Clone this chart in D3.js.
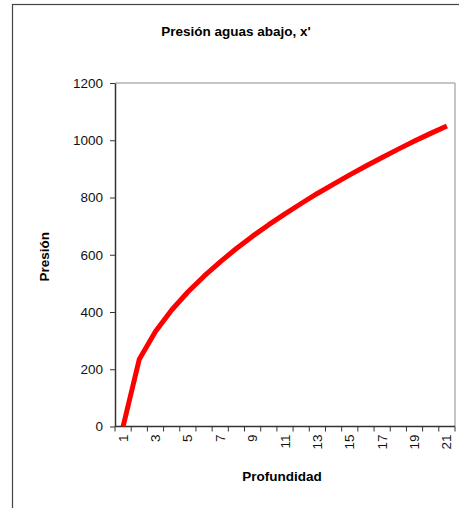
<!DOCTYPE html>
<html>
<head>
<meta charset="utf-8">
<script src="https://cdn.jsdelivr.net/npm/d3@7.9.0/dist/d3.min.js"></script>
<style>
  html, body { margin: 0; padding: 0; background: #fff; }
  svg { display: block; font-family: "Liberation Sans", Arial, sans-serif; }
</style>
</head>
<body>
<svg id="chart" width="459" height="508"></svg>
<script>
// data
const profundidad = d3.range(1, 22);   // categories 1..21
const presion = [0, 235, 332, 407, 470, 525, 575, 622, 665, 705, 743,
                 779, 814, 847, 879, 910, 940, 969, 997, 1024, 1050];
const yTicks = [0, 200, 400, 600, 800, 1000, 1200];
const xLabels = [1, 3, 5, 7, 9, 11, 13, 15, 17, 19, 21];

const svg = d3.select("#chart");

// outer chart frame (runs off the picture at right and bottom)
svg.append("rect")
  .attr("x", 12.5).attr("y", 4.5)
  .attr("width", 470).attr("height", 530)
  .attr("fill", "none")
  .attr("stroke", "#444")
  .attr("stroke-width", 1.2);

// plot area
const plot = { left: 115, top: 83, right: 455, bottom: 426.5 };

const x = d3.scaleBand()
  .domain(profundidad)
  .range([plot.left, plot.right])
  .padding(0);

const y = d3.scaleLinear()
  .domain([0, 1200])
  .range([plot.bottom, plot.top]);

// top and right border of the plot area
svg.append("path")
  .attr("d", `M${plot.left},${plot.top}H${plot.right}V${plot.bottom}`)
  .attr("fill", "none")
  .attr("stroke", "#8c8c8c")
  .attr("stroke-width", 1);

// y axis
const yAxis = svg.append("g")
  .attr("transform", `translate(${plot.left},0)`)
  .call(d3.axisLeft(y).tickValues(yTicks).tickFormat(d3.format("d"))
    .tickSize(5).tickPadding(7).tickSizeOuter(0));
yAxis.select(".domain").attr("stroke", "#333").attr("stroke-width", 1.5);
yAxis.selectAll(".tick line").attr("stroke", "#333");
yAxis.selectAll(".tick text")
  .attr("fill", "#111")
  .style("font-size", "13.5px")
  .style("font-family", "'Liberation Sans', Arial, sans-serif");

// x axis: ticks on category boundaries, labels on odd categories
const xg = svg.append("g").attr("transform", `translate(0,${plot.bottom})`);
xg.append("line")
  .attr("x1", plot.left).attr("x2", plot.right)
  .attr("stroke", "#333").attr("stroke-width", 1.5);
const bounds = profundidad.map(d => x(d)).concat([x(21) + x.bandwidth()]);
xg.selectAll("line.tk")
  .data(bounds)
  .enter().append("line")
  .attr("class", "tk")
  .attr("x1", d => d).attr("x2", d => d)
  .attr("y1", 0).attr("y2", 5)
  .attr("stroke", "#333");
xg.selectAll("text.lbl")
  .data(xLabels)
  .enter().append("text")
  .attr("class", "lbl")
  .attr("transform", d => `translate(${x(d) + x.bandwidth() / 2 + 4.5},8) rotate(-90)`)
  .attr("text-anchor", "end")
  .attr("fill", "#111")
  .style("font-size", "13.5px")
  .text(d => d);

// line
const line = d3.line()
  .x((d, i) => x(profundidad[i]) + x.bandwidth() / 2)
  .y(d => y(d));

svg.append("path")
  .datum(presion)
  .attr("d", line)
  .attr("fill", "none")
  .attr("stroke", "#ff0000")
  .attr("stroke-width", 5)
  .attr("stroke-linejoin", "round")
  .attr("stroke-linecap", "butt");

// titles
svg.append("text")
  .attr("x", 236).attr("y", 36)
  .attr("text-anchor", "middle")
  .style("font-size", "13.5px")
  .style("font-weight", "bold")
  .text("Presión aguas abajo, x'");

svg.append("text")
  .attr("x", 282).attr("y", 481)
  .attr("text-anchor", "middle")
  .style("font-size", "13.5px")
  .style("font-weight", "bold")
  .text("Profundidad");

svg.append("text")
  .attr("transform", `translate(49,${(plot.top + plot.bottom) / 2 + 2}) rotate(-90)`)
  .attr("text-anchor", "middle")
  .style("font-size", "13.5px")
  .style("font-weight", "bold")
  .text("Presión");
</script>
</body>
</html>
